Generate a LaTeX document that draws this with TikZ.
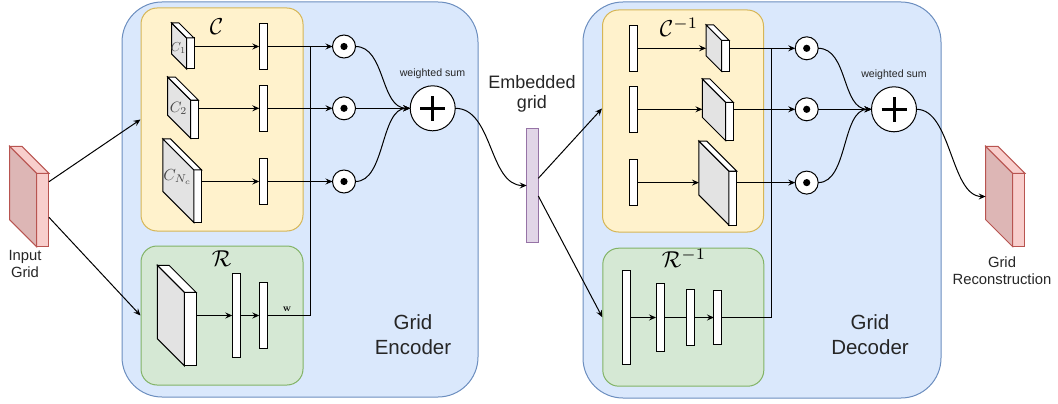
\documentclass[tikz,border=0pt]{standalone}
\usepackage[no-math]{fontspec}
\setmainfont{Liberation Sans}
\usetikzlibrary{arrows.meta}
\definecolor{bluef}{HTML}{DAE8FC}\definecolor{blued}{HTML}{6C8EBF}
\definecolor{yelf}{HTML}{FFF2CC}\definecolor{yeld}{HTML}{D6B656}
\definecolor{grnf}{HTML}{D5E8D4}\definecolor{grnd}{HTML}{82B366}
\definecolor{redf}{HTML}{F8CECC}\definecolor{redd}{HTML}{B85450}\definecolor{reds}{HTML}{DDB6B5}
\definecolor{purf}{HTML}{E1D5E7}\definecolor{purd}{HTML}{9673A6}
\definecolor{grays}{HTML}{E3E3E3}
\tikzset{
  bigbox/.style={draw=blued, fill=bluef, line width=1pt, rounded corners=40pt, inner sep=0},
  ybox/.style={draw=yeld, fill=yelf, line width=1pt, rounded corners=16pt, inner sep=0},
  gbox/.style={draw=grnd, fill=grnf, line width=1pt, rounded corners=16pt, inner sep=0},
  vec/.style={draw=black, fill=white, line width=1pt, minimum width=8pt, inner sep=0, outer sep=0},
  graycube/.style={draw=black, fill=white, line width=1pt},
  redcube/.style={draw=redd, fill=redf, line width=1pt},
  mul/.style={circle, draw=black, fill=white, line width=1pt, minimum size=23pt, inner sep=0, outer sep=0,
    path picture={\fill[black] (path picture bounding box.center) circle (3.6pt);}},
  addop/.style={circle, draw=black, fill=white, line width=1pt, minimum size=45pt, inner sep=0, outer sep=0,
    path picture={\draw[line width=3pt] ([xshift=-12.5pt]path picture bounding box.center) -- ([xshift=12.5pt]path picture bounding box.center);
      \draw[line width=3pt] ([yshift=-12.5pt]path picture bounding box.center) -- ([yshift=12.5pt]path picture bounding box.center);}},
  arr/.style={line width=1pt, -{Stealth[length=7pt,width=6pt,inset=2.5pt]}},
  ln/.style={line width=1pt},
  lbl/.style={inner sep=0, align=center, text=black!85},
  mathlbl/.style={inner sep=0, text=black, scale=2.3},
  cubelbl/.style={inner sep=0, text=black!72},
}
\newcommand\mkcube[8]{%
  \node[#8, inner sep=0, outer sep=0, minimum width=#4pt, minimum height=#5pt] (#1) at (#2,#3) {};
  \draw[#8, fill=#7] (#1.north west) -- ++(-#6,-#6) -- ++(0,#5) -- (#1.south west) -- cycle;
  \draw[#8] (#1.north west) -- ++(-#6,-#6) -- ++(#4,0) -- (#1.north east) -- cycle;
  \coordinate (#1-l) at ([xshift=-#6pt,yshift={#6/2}]#1.west);
}
\begin{document}
\begin{tikzpicture}[x=1pt,y=-1pt]
\useasboundingbox (0,0) rectangle (1058,404);
% big boxes
\node[bigbox, minimum width=356pt, minimum height=395pt] (enc) at (300,199.5) {};
\node[bigbox, minimum width=358pt, minimum height=396pt] (dec) at (762,200) {};
\node[ybox, minimum width=162pt, minimum height=223pt] (ey) at (222,119.5) {};
\node[gbox, minimum width=162pt, minimum height=139pt] (eg) at (222,315.5) {};
\node[ybox, minimum width=161pt, minimum height=222pt] (dy) at (683,121) {};
\node[gbox, minimum width=161pt, minimum height=138pt] (dg) at (683.3,317.2) {};
% section labels
\node[mathlbl] (lc) at (216.7,27) {$\mathcal{C}$};
\node[mathlbl] (lr) at (221.7,259) {$\mathcal{R}$};
\node[mathlbl] (lci) at (679,27) {$\mathcal{C}^{-1}$};
\node[mathlbl] (lri) at (684,258) {$\mathcal{R}^{-1}$};
\node[lbl, font=\fontsize{20.5}{25}\selectfont] (tenc) at (413,335) {Grid\\Encoder};
\node[lbl, font=\fontsize{20.5}{25}\selectfont] (tdec) at (870,335) {Grid\\Decoder};
% input and output grids
\mkcube{inp}{42.8}{210}{12.3}{73.4}{27}{reds}{redcube}
\mkcube{rec}{1018.8}{210}{12.3}{73.4}{27}{reds}{redcube}
\node[lbl, font=\fontsize{14.8}{17}\selectfont] (tin) at (25,263.5) {Input\\Grid};
\node[lbl, font=\fontsize{14.8}{17}\selectfont] (trec) at (1002,270.5) {Grid\\Reconstruction};
\draw[arr] ([yshift=28.3pt]inp.east) -- (ey.west);
\draw[arr] ([yshift=-7.3pt]inp.east) -- (eg.west);
% encoder C
\mkcube{c1}{190.3}{53.5}{7.4}{31}{15}{grays}{graycube}
\mkcube{c2}{194.5}{119.2}{7.6}{38.3}{23}{grays}{graycube}
\mkcube{c3}{197.8}{196.3}{7.7}{52.7}{31}{grays}{graycube}
\node[cubelbl, scale=1.3] (tc1) at (178.5,48.5) {$C_1$};
\node[cubelbl, scale=1.5] (tc2) at (178.5,108.5) {$C_2$};
\node[cubelbl, scale=1.6] (tc3) at (177.5,177) {$C_{N_c}$};
\node[vec, minimum height=46pt] (v1) at (263.3,46.5) {};
\node[vec, minimum height=46pt] (v2) at (263.3,108.3) {};
\node[vec, minimum height=46pt] (v3) at (263.3,181.5) {};
\draw[arr] (v1.west -| c1.east) -- (v1.west);
\draw[arr] (v2.west -| c2.east) -- (v2.west);
\draw[arr] (v3.west -| c3.east) -- (v3.west);
% encoder R
\mkcube{rc}{190.2}{329}{11.7}{73.4}{27}{grays}{graycube}
\node[vec, minimum height=84.4pt, minimum width=8.4pt] (rv1) at (236.5,315.5) {};
\node[vec, minimum height=65.6pt, minimum width=8.4pt] (rv2) at (263.5,315.5) {};
\draw[arr] (rv1.west -| rc.east) -- (rv1.west);
\draw[arr] (rv1.east) -- (rv2.west);
\node[inner sep=0, text=black] (tw) at (287,309) {$\mathbf{w}$};
% encoder multipliers and sum
\node[mul] (m1) at (344,46.5) {};
\node[mul] (m2) at (344,108.3) {};
\node[mul] (m3) at (344,181.5) {};
\coordinate (ej) at (310,46.5);
\draw[ln] (rv2.east) -| (ej);
\draw[arr] (v1.east) -- (m1.west);
\draw[arr] (v2.east) -- (m2.west);
\draw[arr] (v3.east) -- (m3.west);
\node[addop] (add1) at (432.7,108.3) {};
\node[lbl, font=\fontsize{10.6}{12}\selectfont] (ws1) at (432.5,73.5) {weighted sum};
\draw[arr] (m1.east) .. controls +(30,0) and +(-30,0) .. (add1.west);
\draw[arr] (m2.east) -- (add1.west);
\draw[arr] (m3.east) .. controls +(30,0) and +(-30,0) .. (add1.west);
% embedded grid
\node[draw=purd, fill=purf, line width=1pt, minimum width=11.6pt, minimum height=114.4pt, inner sep=0, outer sep=0] (emb) at (532.5,185.5) {};
\node[lbl, font=\fontsize{18}{20}\selectfont] (temb) at (532,93.5) {Embedded\\grid};
\draw[arr] (add1.east) .. controls +(38,0) and +(-38,0) .. (emb.west);
\draw[arr] ([yshift=7.2pt]emb.east) -- ([yshift=12.5pt]dy.west);
\draw[arr] ([yshift=-10.5pt]emb.east) -- (dg.west);
% decoder C^-1
\node[vec, minimum height=46pt, minimum width=7.7pt] (dv1) at (633.8,48.3) {};
\node[vec, minimum height=46pt, minimum width=7.7pt] (dv2) at (633.8,109.3) {};
\node[vec, minimum height=46pt, minimum width=7.7pt] (dv3) at (633.8,182.6) {};
\mkcube{dc1}{725.3}{55.8}{7.5}{31}{15.5}{grays}{graycube}
\mkcube{dc2}{729.5}{121.5}{7.6}{38.4}{23.3}{grays}{graycube}
\mkcube{dc3}{732.8}{198}{7.7}{54}{30}{grays}{graycube}
\draw[arr] (dv1.east) -- (dv1.east -| dc1-l);
\draw[arr] (dv2.east) -- (dv2.east -| dc2-l);
\draw[arr] (dv3.east) -- (dv3.east -| dc3-l);
% decoder R^-1
\node[vec, minimum height=94.3pt] (dr1) at (626.3,317.5) {};
\node[vec, minimum height=68.3pt] (dr2) at (660,317.5) {};
\node[vec, minimum height=56pt] (dr3) at (690.7,317.5) {};
\node[vec, minimum height=54pt, minimum width=7.7pt] (dr4) at (717.8,317.5) {};
\draw[arr] (dr1.east) -- (dr2.west);
\draw[ln] (dr2.east) -- (dr3.west);
\draw[arr] (dr3.east) -- (dr4.west);
% decoder multipliers and sum
\node[mul] (dm1) at (806.7,48.3) {};
\node[mul] (dm2) at (806.7,109.3) {};
\node[mul] (dm3) at (806.7,182.6) {};
\coordinate (dj) at (771.7,48.3);
\draw[ln] (dr4.east) -| (dj);
\draw[arr] (dv1.east -| dc1.east) -- (dm1.west);
\draw[arr] (dv2.east -| dc2.east) -- (dm2.west);
\draw[arr] (dv3.east -| dc3.east) -- (dm3.west);
\node[addop] (add2) at (894,109.3) {};
\node[lbl, font=\fontsize{10.6}{12}\selectfont] (ws2) at (894,75) {weighted sum};
\draw[arr] (dm1.east) .. controls +(30,0) and +(-30,0) .. (add2.west);
\draw[arr] (dm2.east) -- (add2.west);
\draw[arr] (dm3.east) .. controls +(30,0) and +(-30,0) .. (add2.west);
\draw[arr] (add2.east) .. controls +(35,0) and +(-35,0) .. (rec-l);
\end{tikzpicture}
\end{document}
